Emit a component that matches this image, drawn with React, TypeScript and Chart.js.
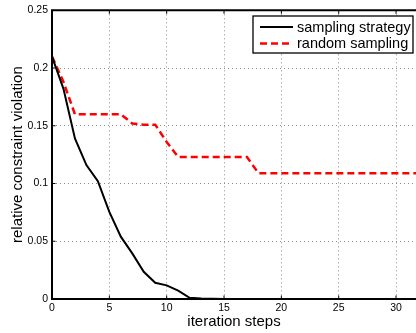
import React, { useEffect, useRef } from "react";
import { Chart, registerables } from "chart.js";

Chart.register(...registerables);

const steps = Array.from({ length: 33 }, (_, i) => i);
const samplingStrategy = [
  0.21, 0.182, 0.139, 0.116, 0.102, 0.0755, 0.054, 0.0395, 0.0236, 0.0141, 0.0118,
  0.0072, 0.001, 0.0005, 0.0003, 0, 0, 0, 0, 0, 0, 0, 0, 0, 0, 0, 0, 0, 0, 0, 0, 0, 0,
];
const randomSampling = [
  0.21, 0.188, 0.16, 0.16, 0.16, 0.16, 0.16, 0.152, 0.151, 0.151, 0.136, 0.123, 0.123,
  0.123, 0.123, 0.123, 0.123, 0.123, 0.109, 0.109, 0.109, 0.109, 0.109, 0.109, 0.109,
  0.109, 0.109, 0.109, 0.109, 0.109, 0.109, 0.109, 0.109,
];
const xTicks = [0, 5, 10, 15, 20, 25, 30];
const yTicks = [0, 0.05, 0.1, 0.15, 0.2, 0.25];
const seriesNames = ["sampling strategy", "random sampling"];

const FONT = "'Liberation Sans', Arial, Helvetica, sans-serif";

const framePlugin = {
  id: "frame",
  afterDatasetsDraw(chart: any) {
    const { ctx, chartArea, scales } = chart;
    const { left, right, top, bottom } = chartArea;
    ctx.save();
    ctx.strokeStyle = "#000";
    ctx.lineWidth = 1;
    // inward ticks
    ctx.beginPath();
    xTicks.forEach((v) => {
      const px = scales.x.getPixelForValue(v);
      ctx.moveTo(px, top);
      ctx.lineTo(px, top + 3.5);
      ctx.moveTo(px, bottom);
      ctx.lineTo(px, bottom - 3.5);
    });
    yTicks.forEach((v) => {
      const py = scales.y.getPixelForValue(v);
      ctx.moveTo(left, py);
      ctx.lineTo(left + 3.5, py);
    });
    ctx.stroke();
    ctx.lineWidth = 2;
    ctx.beginPath();
    ctx.moveTo(right + 2, top);
    ctx.lineTo(left, top);
    ctx.lineTo(left, bottom);
    ctx.lineTo(right + 2, bottom);
    ctx.stroke();

    // legend box
    const bx = 253, by = 16, bw = 160, bh = 37;
    ctx.fillStyle = "#fff";
    ctx.fillRect(bx, by, bw, bh);
    ctx.lineWidth = 1.3;
    ctx.strokeRect(bx, by, bw, bh);
    const rows = [27, 43.5];
    chart.data.datasets.forEach((ds: any, i: number) => {
      const y = rows[i];
      ctx.beginPath();
      ctx.strokeStyle = ds.borderColor;
      ctx.lineWidth = ds.borderWidth;
      ctx.setLineDash(ds.borderDash || []);
      ctx.moveTo(260, y);
      ctx.lineTo(293, y);
      ctx.stroke();
      ctx.setLineDash([]);
      ctx.fillStyle = "#000";
      ctx.font = `14.5px ${FONT}`;
      ctx.textBaseline = "middle";
      ctx.textAlign = "left";
      ctx.fillText(ds.label, 297, y + 0.5);
    });
    ctx.restore();
  },
};

export default function App() {
  const ref = useRef<HTMLCanvasElement | null>(null);
  useEffect(() => {
    document.body.style.margin = "0";
    const canvas = ref.current;
    if (!canvas) return;
    const chart = new Chart(canvas, {
      type: "line",
      data: {
        datasets: [
          {
            label: seriesNames[0],
            data: steps.map((x, i) => ({ x, y: samplingStrategy[i] })),
            borderColor: "#000000",
            borderWidth: 2,
            pointRadius: 0,
            tension: 0,
            fill: false,
          },
          {
            label: seriesNames[1],
            data: steps.map((x, i) => ({ x, y: randomSampling[i] })),
            borderColor: "#ff0000",
            borderWidth: 2.5,
            borderDash: [7, 4],
            pointRadius: 0,
            tension: 0,
            fill: false,
          },
        ],
      },
      options: {
        responsive: false,
        animation: false,
        layout: { padding: { top: 10, right: 0, left: 0, bottom: 0 } },
        plugins: { legend: { display: false }, tooltip: { enabled: false } },
        scales: {
          x: {
            type: "linear",
            min: 0,
            max: 31.74,
            afterFit: (s: any) => {
              s.height = 34;
            },
            afterBuildTicks: (s: any) => {
              s.ticks = xTicks.map((v) => ({ value: v }));
            },
            grid: { color: "#8c8c8c", lineWidth: 1, drawTicks: false },
            border: { display: false, dash: [1, 3] },
            ticks: {
              padding: 3,
              color: "#000",
              font: { family: FONT, size: 10.5 },
              maxRotation: 0,
              autoSkip: false,
            },
            title: {
              display: true,
              text: "iteration steps",
              color: "#000",
              font: { family: FONT, size: 15 },
              padding: { top: 0, bottom: 2 },
            },
          },
          y: {
            type: "linear",
            min: 0,
            max: 0.25,
            afterFit: (s: any) => {
              s.width = 52;
            },
            afterBuildTicks: (s: any) => {
              s.ticks = yTicks.map((v) => ({ value: v }));
            },
            grid: { color: "#8c8c8c", lineWidth: 1, drawTicks: false },
            border: { display: false, dash: [1, 3] },
            ticks: {
              padding: 4,
              color: "#000",
              font: { family: FONT, size: 10.5 },
              callback: (v: any) => String(Number(v)),
            },
            title: {
              display: true,
              text: "relative constraint violation",
              color: "#000",
              font: { family: FONT, size: 15 },
              padding: { top: 8.5, bottom: 0 },
            },
          },
        },
      },
      plugins: [framePlugin],
    });
    return () => chart.destroy();
  }, []);
  return (
    <div style={{ width: 416, height: 333 }}>
      <canvas ref={ref} width={416} height={333} />
    </div>
  );
}
